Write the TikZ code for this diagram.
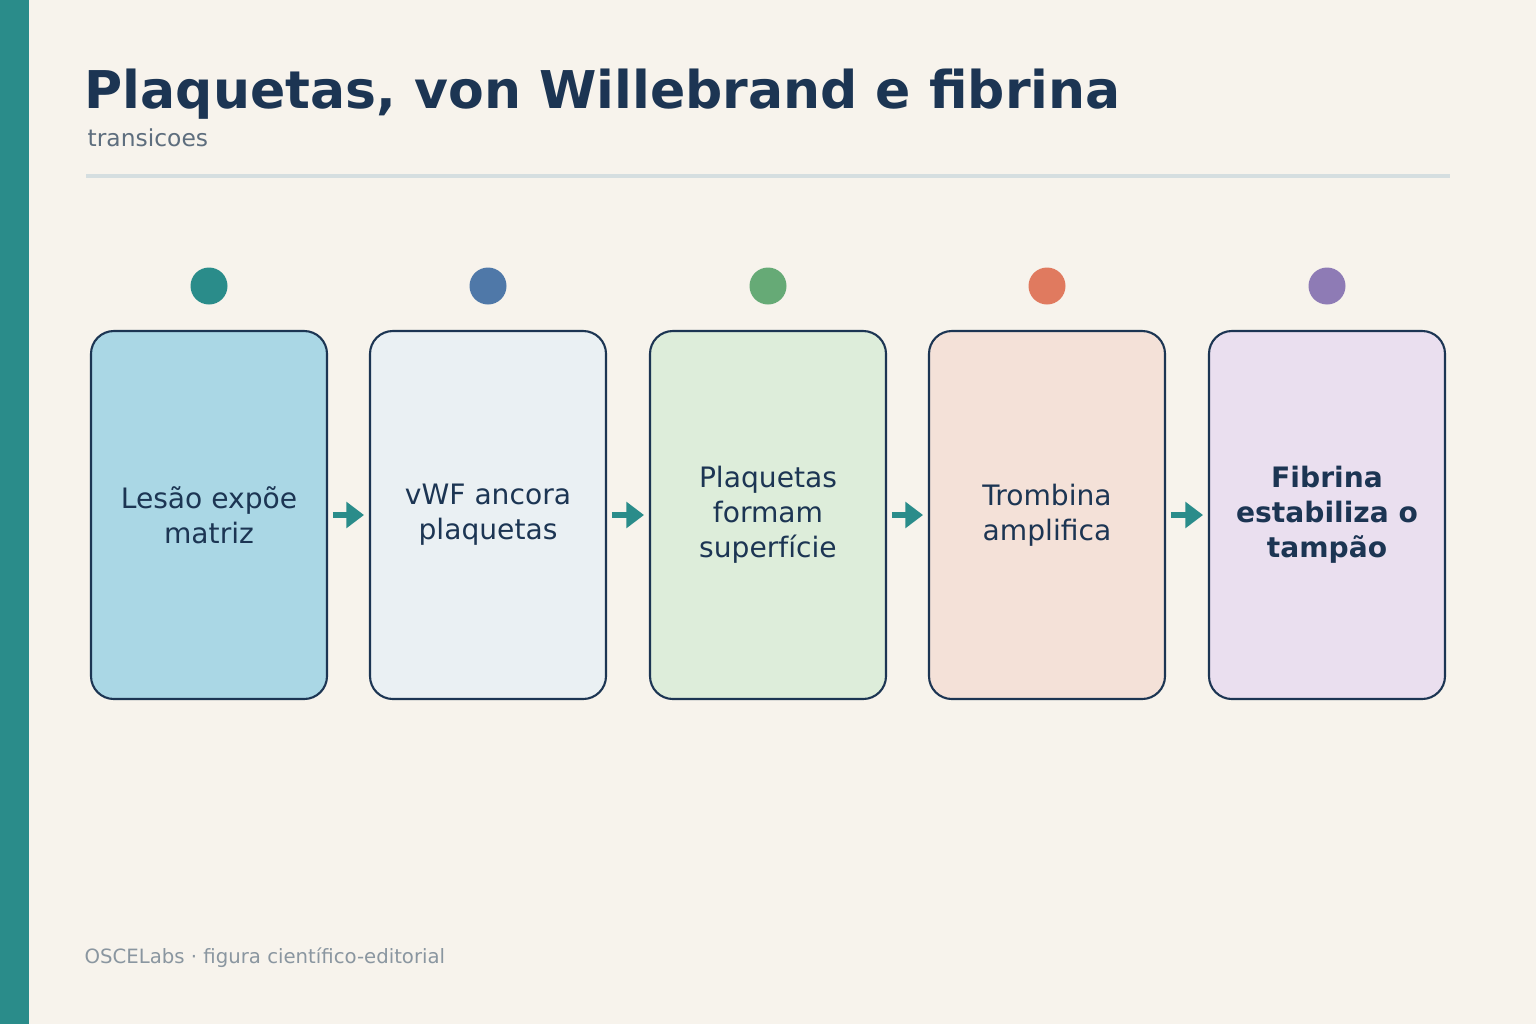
\documentclass[tikz,border=0pt]{standalone}
\usepackage{fontspec}
\setmainfont{DejaVu Sans}
\usetikzlibrary{arrows.meta,positioning}
\definecolor{bg}{HTML}{F7F3EC}
\definecolor{teal}{HTML}{2A8C8A}
\definecolor{navy}{HTML}{1C3553}
\definecolor{rulec}{HTML}{D5DEE0}
\definecolor{subc}{HTML}{5E6E7E}
\definecolor{footc}{HTML}{8A96A0}
\definecolor{fillA}{HTML}{AAD7E5}
\definecolor{fillB}{HTML}{EAF0F3}
\definecolor{fillC}{HTML}{DDEDDA}
\definecolor{fillD}{HTML}{F4E1D8}
\definecolor{fillE}{HTML}{EADFEF}
\definecolor{dotA}{HTML}{2A8C8A}
\definecolor{dotB}{HTML}{4F78A8}
\definecolor{dotC}{HTML}{66AA76}
\definecolor{dotD}{HTML}{E07A5F}
\definecolor{dotE}{HTML}{8E7BB5}
\newcommand{\pxu}{*0.01cm}
\tikzset{
  stage/.style={draw=navy, line width=0.6pt, rounded corners=6.5pt, minimum width=236\pxu, minimum height=368\pxu, inner sep=0pt, align=center, text=navy, font=\fontsize{8pt}{9.9pt}\selectfont},
  dot/.style={circle, minimum size=37\pxu, inner sep=0pt},
  link/.style={-{Triangle[length=5pt,width=7.2pt]}, draw=teal, line width=1.8pt, shorten <=1.4pt, shorten >=1.4pt}
}
\begin{document}
\begin{tikzpicture}[x=0.01cm,y=-0.01cm]
      % Background and frame
      \fill[bg] (0,0) rectangle (1536,1024);
      \fill[teal] (0,0) rectangle (29,1024);
      \node[anchor=base west, inner sep=0pt, text=navy, font=\fontsize{14.8pt}{18pt}\selectfont\bfseries] (title) at (84,108) {Plaquetas, von Willebrand e fibrina};
      \node[anchor=base west, inner sep=0pt, text=subc, font=\fontsize{6.65pt}{8pt}\selectfont] (sub) at (87,146) {transicoes};
      \draw[rulec, line width=1pt] (86,176) -- (1450,176);

      % Stages
      \node[stage, fill=fillA] at (209,515) (s1) {Lesão expõe\\matriz};
      \node[stage, fill=fillB] at (488,515) (s2) {vWF ancora\\plaquetas};
      \node[stage, fill=fillC] at (768,515) (s3) {Plaquetas\\formam\\superfície};
      \node[stage, fill=fillD] at (1047,515) (s4) {Trombina\\amplifica};
      \node[stage, fill=fillE, font=\fontsize{8pt}{9.9pt}\selectfont\bfseries] at (1327,515) (s5) {Fibrina\\estabiliza o\\tampão};

      % Dots
      \node[dot, fill=dotA] at (209,286) (d1) {};
      \node[dot, fill=dotB] at (488,286) (d2) {};
      \node[dot, fill=dotC] at (768,286) (d3) {};
      \node[dot, fill=dotD] at (1047,286) (d4) {};
      \node[dot, fill=dotE] at (1327,286) (d5) {};

      \draw[link] (s1) -- (s2);
      \draw[link] (s2) -- (s3);
      \draw[link] (s3) -- (s4);
      \draw[link] (s4) -- (s5);

      \node[anchor=base west, inner sep=0pt, text=footc, font=\fontsize{5.6pt}{7pt}\selectfont] (foot) at (84,963) {OSCELabs · figura científico-editorial};
    \end{tikzpicture}
\end{document}
